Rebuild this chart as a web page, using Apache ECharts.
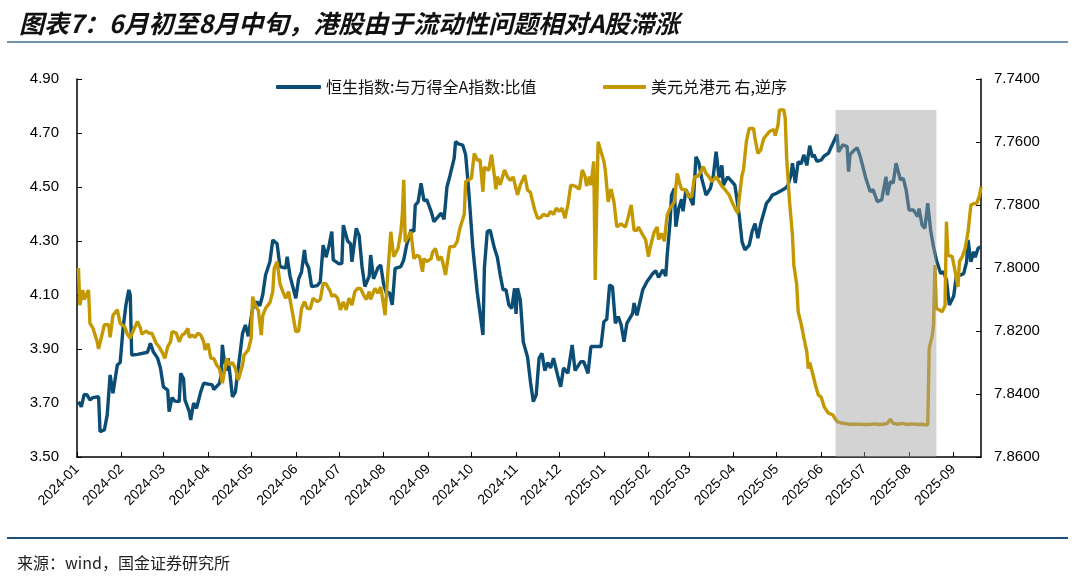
<!DOCTYPE html>
<html>
<head>
<meta charset="utf-8">
<title>港股相对A股滞涨</title>
<script src="https://cdn.jsdelivr.net/npm/echarts@6/dist/echarts.min.js"></script>
<style>
  html, body { margin: 0; padding: 0; background: #fff; }
  #main { width: 1080px; height: 583px; }
</style>
</head>
<body>
<div id="main"></div>
<script>
// 数据：日期用 2024-01-01 起的天数表示
var titleText = '图表7：6月初至8月中旬，港股由于流动性问题相对A股滞涨';
var sourceText = '来源：wind，国金证券研究所';
var ratioName = '恒生指数:与万得全A指数:比值';
var fxName = '美元兑港元 右,逆序';

var monthTicks = ['2024-01', '2024-02', '2024-03', '2024-04', '2024-05', '2024-06', '2024-07',
  '2024-08', '2024-09', '2024-10', '2024-11', '2024-12', '2025-01', '2025-02', '2025-03',
  '2025-04', '2025-05', '2025-06', '2025-07', '2025-08', '2025-09'];
var leftTicks = [3.5, 3.7, 3.9, 4.1, 4.3, 4.5, 4.7, 4.9];
var rightTicks = [7.74, 7.76, 7.78, 7.80, 7.82, 7.84, 7.86];
var bandRange = ['2025-06-11', '2025-08-20'];
var bandTop = 4.785;

// 恒生指数/万得全A 比值
var ratioDay = [1, 3, 5, 7, 9, 11, 15, 16, 19, 21, 23, 25, 28, 30, 32, 34, 36, 37, 38, 42,
  49, 51, 53, 56, 58, 60, 63, 64, 66, 68, 71, 72, 74, 75, 78, 79, 81, 83, 86, 88,
  94, 95, 99, 100, 101, 102, 104, 105, 108, 110, 112, 115, 117, 119, 122, 125, 127, 129, 131, 134,
  136, 139, 141, 145, 146, 148, 152, 154, 156, 158, 159, 161, 163, 167, 169, 171, 173, 175, 177, 178,
  182, 184, 185, 188, 190, 191, 194, 196, 198, 200, 203, 204, 206, 209, 211, 213, 215, 217, 219, 221,
  225, 227, 229, 232, 234, 235, 237, 239, 241, 243, 246, 248, 250, 253, 255, 257, 259, 262, 263, 265,
  268, 270, 272, 275, 278, 282, 283, 285, 287, 290, 292, 294, 296, 298, 300, 302, 304, 305, 306, 308,
  310, 313, 315, 317, 319, 321, 323, 325, 327, 329, 331, 334, 336, 338, 341, 344, 346, 350, 352, 355,
  357, 360, 364, 366, 368, 370, 372, 374, 376, 378, 380, 382, 386, 387, 389, 393, 396, 400, 402, 404,
  407, 409, 410, 412, 413, 415, 416, 418, 420, 421, 423, 426, 428, 430, 432, 434, 437, 440, 442, 444,
  446, 448, 449, 452, 455, 457, 460, 462, 464, 467, 469, 471, 473, 475, 479, 481, 483, 486, 490, 492,
  494, 496, 497, 499, 501, 503, 505, 507, 509, 511, 512, 514, 517, 519, 522, 523, 525, 528, 529, 532,
  535, 536, 537, 540, 542, 544, 548, 551, 553, 556, 559, 562, 563, 565, 567, 569, 572, 574, 576, 578,
  581, 584, 585, 587, 589, 591, 593, 595, 597, 600, 602, 604, 606, 609, 611, 614, 616, 618, 619, 621,
  623, 624, 626, 628];
var ratioVal = [3.705, 3.686, 3.732, 3.73, 3.711, 3.72, 3.723, 3.594, 3.60, 3.656, 3.804, 3.736, 3.841, 3.85, 3.977, 4.063, 4.119, 4.10, 3.878, 3.88,
  3.888, 3.921, 3.89, 3.866, 3.829, 3.76, 3.748, 3.668, 3.72, 3.707, 3.705, 3.81, 3.79, 3.711, 3.668, 3.637, 3.70, 3.68, 3.742, 3.773,
  3.767, 3.75, 3.773, 3.80, 3.915, 3.87, 3.82, 3.866, 3.723, 3.74, 3.829, 3.958, 3.989, 3.947, 4.051, 4.075, 4.06, 4.10, 4.174, 4.223,
  4.304, 4.29, 4.205, 4.20, 4.242, 4.17, 4.088, 4.16, 4.186, 4.267, 4.223, 4.20, 4.131, 4.135, 4.149, 4.285, 4.24, 4.28, 4.335, 4.23,
  4.215, 4.217, 4.359, 4.30, 4.29, 4.223, 4.347, 4.32, 4.205, 4.131, 4.17, 4.248, 4.16, 4.20, 4.211, 4.14, 4.106, 4.11, 4.063, 4.199,
  4.205, 4.23, 4.285, 4.341, 4.335, 4.433, 4.445, 4.514, 4.45, 4.452, 4.41, 4.371, 4.385, 4.403, 4.38, 4.50, 4.54, 4.606, 4.668, 4.66,
  4.655, 4.619, 4.495, 4.273, 4.112, 3.952, 4.199, 4.335, 4.34, 4.273, 4.24, 4.174, 4.119, 4.12, 4.063, 4.05, 4.125, 4.03, 4.125, 4.08,
  3.927, 3.87, 3.779, 3.705, 3.73, 3.866, 3.884, 3.82, 3.85, 3.83, 3.866, 3.80, 3.76, 3.83, 3.81, 3.915, 3.82, 3.853, 3.853, 3.81,
  3.909, 3.909, 3.909, 4.001, 4.01, 4.137, 4.13, 3.995, 4.02, 3.99, 3.927, 3.995, 4.032, 4.07, 4.025, 4.119, 4.15, 4.18, 4.19, 4.165,
  4.193, 4.17, 4.248, 4.371, 4.47, 4.495, 4.353, 4.42, 4.455, 4.41, 4.49, 4.458, 4.433, 4.612, 4.59, 4.532, 4.47, 4.495, 4.54, 4.631,
  4.535, 4.58, 4.507, 4.537, 4.52, 4.507, 4.396, 4.297, 4.267, 4.285, 4.335, 4.365, 4.31, 4.365, 4.44, 4.452, 4.47, 4.477, 4.489, 4.495,
  4.507, 4.545, 4.588, 4.515, 4.594, 4.585, 4.619, 4.58, 4.653, 4.61, 4.62, 4.595, 4.60, 4.615, 4.625, 4.637, 4.66, 4.695, 4.63, 4.656,
  4.65, 4.557, 4.62, 4.637, 4.645, 4.615, 4.532, 4.483, 4.49, 4.446, 4.452, 4.538, 4.47, 4.52, 4.515, 4.588, 4.527, 4.532, 4.489, 4.415,
  4.415, 4.39, 4.42, 4.36, 4.347, 4.44, 4.34, 4.279, 4.23, 4.18, 4.186, 4.156, 4.063, 4.095, 4.174, 4.174, 4.18, 4.223, 4.304, 4.223,
  4.26, 4.24, 4.273, 4.279];

// 美元兑港元（右轴，逆序）
var fxDay = [1, 2, 4, 5, 8, 9, 11, 14, 15, 18, 19, 22, 23, 25, 28, 30, 33, 35, 37, 39,
  42, 44, 45, 48, 50, 52, 55, 57, 59, 61, 63, 65, 66, 69, 71, 73, 75, 77, 78, 80,
  82, 84, 86, 88, 89, 91, 93, 95, 97, 99, 101, 102, 104, 106, 108, 110, 112, 115, 116, 119,
  121, 122, 124, 126, 128, 129, 131, 134, 136, 137, 139, 141, 143, 145, 147, 150, 152, 154, 156, 158,
  160, 162, 164, 167, 169, 171, 173, 176, 177, 179, 181, 183, 185, 187, 189, 191, 193, 195, 197, 199,
  201, 203, 204, 207, 209, 211, 213, 214, 216, 218, 220, 221, 223, 225, 226, 227, 228, 229, 232, 234,
  236, 238, 240, 241, 243, 246, 247, 249, 251, 253, 254, 256, 258, 259, 262, 264, 266, 269, 270, 272,
  274, 276, 278, 280, 282, 283, 286, 288, 290, 291, 292, 294, 297, 299, 301, 303, 306, 308, 311, 313,
  315, 316, 318, 320, 322, 324, 327, 329, 331, 333, 335, 337, 339, 341, 343, 346, 349, 351, 353, 354,
  356, 357, 359, 360, 361, 362, 364, 366, 367, 369, 371, 373, 375, 378, 381, 383, 385, 387, 389, 390,
  393, 395, 397, 398, 401, 403, 404, 406, 408, 410, 412, 415, 417, 419, 420, 423, 425, 427, 429, 431,
  433, 435, 437, 439, 441, 444, 446, 448, 450, 453, 455, 457, 459, 460, 462, 463, 465, 467, 470, 471,
  473, 475, 477, 479, 481, 484, 485, 487, 488, 491, 492, 493, 495, 497, 498, 500, 501, 503, 505, 507,
  508, 509, 511, 513, 515, 517, 519, 522, 525, 528, 532, 537, 542, 547, 550, 554, 557, 560, 563, 565,
  567, 570, 573, 577, 580, 584, 587, 591, 592, 594, 595, 596, 597, 599, 601, 603, 604, 605, 608, 610,
  612, 613, 615, 617, 619, 621, 623, 625, 627, 628];
var fxVal = [7.80, 7.8118, 7.807, 7.81, 7.807, 7.8176, 7.819, 7.8234, 7.8257, 7.82, 7.818, 7.818, 7.822, 7.815, 7.8133, 7.8176, 7.8186, 7.821, 7.8223, 7.82,
  7.817, 7.819, 7.821, 7.82, 7.8207, 7.8207, 7.8239, 7.825, 7.8266, 7.8287, 7.825, 7.8234, 7.8202, 7.8207, 7.8234, 7.8213, 7.8207, 7.8192, 7.822, 7.8213,
  7.822, 7.8207, 7.8213, 7.8234, 7.826, 7.824, 7.8287, 7.8287, 7.8308, 7.832, 7.8366, 7.837, 7.8287, 7.8308, 7.83, 7.8319, 7.8356, 7.8308, 7.8277, 7.826,
  7.8223, 7.8091, 7.812, 7.8135, 7.8213, 7.8152, 7.8128, 7.811, 7.8075, 7.8001, 7.798, 7.805, 7.8075, 7.8096, 7.8075, 7.815, 7.8202, 7.82, 7.8128, 7.8107,
  7.8128, 7.813, 7.8096, 7.8107, 7.81, 7.8049, 7.805, 7.8075, 7.809, 7.8085, 7.8096, 7.8133, 7.8107, 7.8133, 7.8096, 7.8118, 7.8075, 7.8065, 7.8065, 7.8085,
  7.81, 7.8075, 7.81, 7.8065, 7.808, 7.806, 7.8118, 7.815, 7.8012, 7.7885, 7.7964, 7.797, 7.7938, 7.7885, 7.783, 7.772, 7.7917, 7.792, 7.7885, 7.797,
  7.796, 7.7964, 7.8012, 7.797, 7.798, 7.797, 7.795, 7.7938, 7.7975, 7.7964, 7.798, 7.8022, 7.796, 7.7932, 7.7932, 7.7917, 7.7874, 7.783, 7.7726, 7.772,
  7.7715, 7.7636, 7.7657, 7.7657, 7.7758, 7.768, 7.769, 7.764, 7.771, 7.775, 7.771, 7.7736, 7.7689, 7.771, 7.7722, 7.7711, 7.7768, 7.7736, 7.7705, 7.7753,
  7.776, 7.778, 7.7816, 7.7842, 7.784, 7.783, 7.7835, 7.782, 7.783, 7.781, 7.782, 7.781, 7.7842, 7.78, 7.7737, 7.774, 7.775, 7.7689, 7.771, 7.774,
  7.771, 7.7737, 7.7662, 7.8038, 7.781, 7.7599, 7.763, 7.766, 7.769, 7.779, 7.775, 7.779, 7.7869, 7.786, 7.787, 7.7837, 7.78, 7.788, 7.788, 7.787,
  7.7895, 7.791, 7.7964, 7.7938, 7.7885, 7.787, 7.791, 7.789, 7.7915, 7.7832, 7.781, 7.779, 7.77, 7.7737, 7.775, 7.7752, 7.7774, 7.7774, 7.771, 7.771,
  7.7698, 7.7678, 7.77, 7.771, 7.7726, 7.771, 7.7726, 7.774, 7.775, 7.7768, 7.779, 7.781, 7.7826, 7.778, 7.7705, 7.7689, 7.7599, 7.7557, 7.7557, 7.7589,
  7.7636, 7.7625, 7.759, 7.7578, 7.7567, 7.756, 7.758, 7.7546, 7.7498, 7.7498, 7.7525, 7.7652, 7.779, 7.7895, 7.7991, 7.8054, 7.8139, 7.8176, 7.8223, 7.8266,
  7.8319, 7.83, 7.8334, 7.8372, 7.8403, 7.841, 7.844, 7.8461, 7.8466, 7.8488, 7.8493, 7.8496, 7.8496, 7.8497, 7.8497, 7.8495, 7.8497, 7.8496, 7.8493, 7.848,
  7.8493, 7.8496, 7.8493, 7.8497, 7.8495, 7.8497, 7.8496, 7.8499, 7.8255, 7.8218, 7.818, 7.7991, 7.8128, 7.8133, 7.8139, 7.812, 7.7853, 7.7959, 7.7964, 7.801,
  7.806, 7.798, 7.7964, 7.7938, 7.7885, 7.78, 7.7795, 7.7795, 7.777, 7.7742];

function dayToTime(d) { return new Date(2024, 0, 1 + d).getTime(); }
function monthToTime(s) { var p = s.split('-'); return new Date(+p[0], +p[1] - 1, 1).getTime(); }
function dateToTime(s) { var p = s.split('-'); return new Date(+p[0], +p[1] - 1, +p[2]).getTime(); }
function pair(days, vals) { return days.map(function (d, i) { return [dayToTime(d), vals[i]]; }); }

var blue = '#0b4d74';
var gold = '#c49800';
var axisColor = '#000';
var numFont = '"Liberation Sans", Arial, sans-serif';
var cjkFont = '"Noto Sans CJK SC", sans-serif';
var monthTimes = monthTicks.map(monthToTime);

var chart = echarts.init(document.getElementById('main'));
var option = {
  animation: false,
  backgroundColor: '#fff',
  title: [
    { text: titleText, left: 14, top: 6,
      textStyle: { fontFamily: cjkFont, fontSize: 25, fontWeight: 'bold', fontStyle: 'italic', color: '#111' } },
    { text: sourceText, left: 12, top: 550,
      textStyle: { fontFamily: cjkFont, fontSize: 16, fontWeight: 'normal', color: '#222' } }
  ],
  graphic: [
    { type: 'line', shape: { x1: 7, y1: 42, x2: 1068, y2: 42 }, style: { stroke: '#6f93ac', lineWidth: 2 } },
    { type: 'line', shape: { x1: 7, y1: 538, x2: 1068, y2: 538 }, style: { stroke: '#1f4e79', lineWidth: 2 } }
  ],
  legend: [
    { data: [ratioName], left: 271, top: 74, icon: 'roundRect', itemWidth: 45, itemHeight: 4, itemGap: 10,
      textStyle: { fontFamily: cjkFont, fontSize: 16, color: '#111' } },
    { data: [fxName], left: 598, top: 74, icon: 'roundRect', itemWidth: 43, itemHeight: 4, itemGap: 10,
      textStyle: { fontFamily: cjkFont, fontSize: 16, color: '#111' } }
  ],
  grid: { left: 77, right: 99, top: 79, bottom: 126 },
  // x 轴用毫秒时间戳的数值轴，刻度放在每月 1 日
  xAxis: {
    type: 'value',
    min: monthToTime('2024-01'),
    max: dateToTime('2025-09-20'),
    axisLine: { show: true, lineStyle: { color: axisColor, width: 1.5 } },
    axisTick: { show: true, inside: true, length: 5, lineStyle: { color: axisColor }, customValues: monthTimes },
    axisLabel: {
      customValues: monthTimes,
      rotate: 45, margin: 10, hideOverlap: false,
      fontFamily: numFont, fontSize: 14, color: axisColor,
      formatter: function (v) {
        var d = new Date(v), m = d.getMonth() + 1;
        return d.getFullYear() + '-' + (m < 10 ? '0' + m : m);
      }
    },
    splitLine: { show: false }
  },
  yAxis: [
    {
      type: 'value', min: 3.5, max: 4.9,
      axisLine: { show: true, lineStyle: { color: axisColor, width: 1.5 } },
      axisTick: { show: true, inside: true, length: 5, lineStyle: { color: axisColor }, customValues: leftTicks },
      axisLabel: { customValues: leftTicks, margin: 18, fontFamily: numFont, fontSize: 15, color: axisColor,
        formatter: function (v) { return v.toFixed(2); } },
      splitLine: { show: false }
    },
    {
      type: 'value', min: 7.74, max: 7.86, inverse: true, position: 'right',
      axisLine: { show: true, lineStyle: { color: axisColor, width: 1.5 } },
      axisTick: { show: true, inside: true, length: 5, lineStyle: { color: axisColor }, customValues: rightTicks },
      axisLabel: { customValues: rightTicks, margin: 13, fontFamily: numFont, fontSize: 15, color: axisColor,
        formatter: function (v) { return v.toFixed(4); } },
      splitLine: { show: false }
    }
  ],
  series: [
    {
      name: ratioName, type: 'line', yAxisIndex: 0, data: pair(ratioDay, ratioVal),
      showSymbol: false, symbol: 'none', z: 2,
      lineStyle: { color: blue, width: 3.4 }, itemStyle: { color: blue }
    },
    {
      name: fxName, type: 'line', yAxisIndex: 1, data: pair(fxDay, fxVal),
      showSymbol: false, symbol: 'none', z: 3,
      lineStyle: { color: gold, width: 3.4 }, itemStyle: { color: gold }
    },
    {
      // 6月初至8月中旬的灰色区间，盖在两条线上面
      type: 'custom', yAxisIndex: 0, z: 10, silent: true,
      encode: { x: [0, 1], y: 2 },
      data: [[dateToTime(bandRange[0]), dateToTime(bandRange[1]), bandTop]],
      renderItem: function (params, api) {
        var p0 = api.coord([api.value(0), api.value(2)]);
        var p1 = api.coord([api.value(1), 3.5]);
        return {
          type: 'rect',
          shape: { x: p0[0], y: p0[1], width: p1[0] - p0[0], height: p1[1] - p0[1] },
          style: { fill: 'rgba(160,160,160,0.46)' }
        };
      }
    }
  ]
};
chart.setOption(option);
</script>
</body>
</html>
